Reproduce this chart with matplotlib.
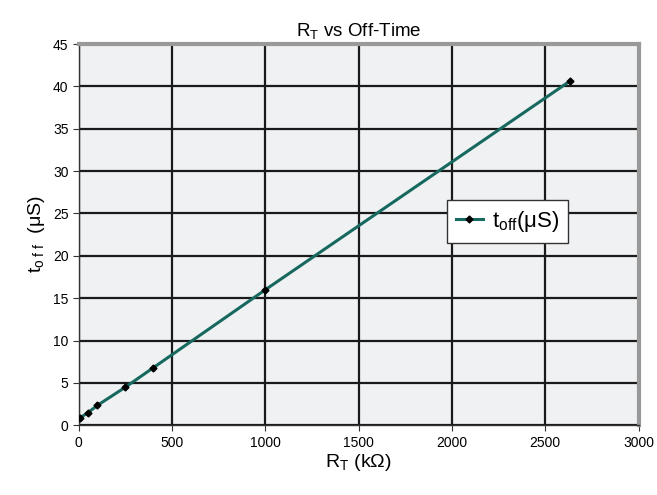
import matplotlib.pyplot as plt
from matplotlib import font_manager

# data
rt_kohm = [5, 50, 100, 250, 400, 1000, 2630]
toff_us = [0.85, 1.5, 2.35, 4.5, 6.8, 16.0, 40.6]

xticks = [0, 500, 1000, 1500, 2000, 2500, 3000]
yticks = [0, 5, 10, 15, 20, 25, 30, 35, 40, 45]

names = {f.name for f in font_manager.fontManager.ttflist}
fam = 'Liberation Sans Narrow' if 'Liberation Sans Narrow' in names else 'Liberation Sans'
plt.rcParams['font.family'] = [fam, 'DejaVu Sans']
plt.rcParams['mathtext.fontset'] = 'custom'
plt.rcParams['mathtext.rm'] = fam
plt.rcParams['mathtext.it'] = fam

fig = plt.figure(figsize=(6.57, 4.95), dpi=100)
ax = fig.add_axes([0.120, 0.141, 0.852, 0.770])
ax.set_facecolor('#f0f1f3')

ax.plot(rt_kohm, toff_us, color='#17695f', lw=2.2, marker='D', ms=3.5,
        mfc='black', mec='black', label=r'$\mathregular{t_{off}}$(μS)', zorder=3)

ax.set_xlim(0, 3000)
ax.set_ylim(0, 45)
ax.set_xticks(xticks)
ax.set_yticks(yticks)
ax.grid(True, color='#1a1a1a', lw=1.6)
ax.set_axisbelow(True)
ax.tick_params(labelsize=10, length=4, color='#333333')

for s in ['top', 'right']:
    ax.spines[s].set_color('#999999')
    ax.spines[s].set_linewidth(3)
for s in ['left', 'bottom']:
    ax.spines[s].set_color('#333333')
    ax.spines[s].set_linewidth(1)

ax.set_title(r'$\mathregular{R_T}$ vs Off-Time', fontsize=13.5, pad=6)
ax.set_xlabel(r'$\mathregular{R_T}$ (kΩ)', fontsize=14, labelpad=2)
ax.set_ylabel(r'$\mathregular{t_{o\ f\ f}}$  (μS)', fontsize=14, labelpad=4)

leg = ax.legend(loc='upper left', bbox_to_anchor=(0.638, 0.62), fontsize=16,
                frameon=True, fancybox=False, framealpha=1, edgecolor='#333333',
                handlelength=1.2, handletextpad=0.4, borderpad=0.4)
leg.get_frame().set_linewidth(1)

fig.savefig('out.png', dpi=100)
